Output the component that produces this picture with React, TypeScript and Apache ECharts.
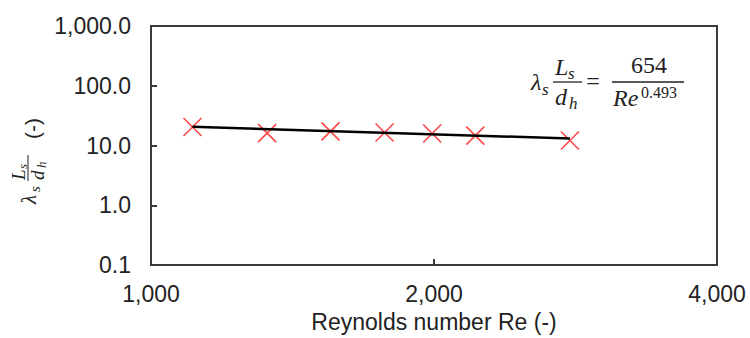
import React, { useEffect, useRef } from "react";
import * as echarts from "echarts";

const reynolds = [1107, 1329, 1552, 1772, 1991, 2213, 2790];
const lambdaLd = [20.4, 16.1, 17.2, 16.5, 15.9, 14.6, 12.1];
const trendRe = [1107, 2790];
const trendVal = [20.6, 13.1];
const xTicks = [1000, 2000, 4000];
const xTitle = "Reynolds number Re (-)";

const SERIF = "'Liberation Serif', serif";
const SANS = "'Liberation Sans', Arial, sans-serif";

export default function App() {
  const ref = useRef<HTMLDivElement>(null);
  useEffect(() => {
    if (!ref.current) return;
    const chart = echarts.init(ref.current, null, { renderer: "svg" });
    const frame = "#3a3a3a";
    const it = (text: string, x: number, y: number, size: number, italic = true, align = "left") => ({
      type: "text",
      x,
      y,
      style: {
        text,
        font: `${italic ? "italic " : ""}${size}px ${SERIF}`,
        fill: "#222",
        textAlign: align,
        textVerticalAlign: "middle",
      },
    });
    chart.setOption({
      animation: false,
      backgroundColor: "#fff",
      grid: {
        left: 151,
        right: 33,
        top: 26,
        bottom: 69,
        show: true,
        borderColor: frame,
        borderWidth: 2,
      },
      xAxis: {
        type: "log",
        logBase: 2,
        min: 1000,
        max: 4000,
        name: xTitle,
        nameLocation: "middle",
        nameGap: 45,
        nameTextStyle: { fontFamily: SANS, fontSize: 23, color: "#222" },
        axisLine: { show: false },
        axisTick: {
          show: true,
          inside: true,
          length: 6,
          customValues: xTicks,
          lineStyle: { color: frame, width: 2 },
        },
        axisLabel: {
          customValues: xTicks,
          margin: 17,
          fontFamily: SANS,
          fontSize: 23,
          color: "#222",
          formatter: (v: number) => Math.round(v).toLocaleString("en-US"),
        },
        splitLine: { show: false },
        minorTick: { show: false },
      },
      yAxis: {
        type: "log",
        logBase: 10,
        min: 0.1,
        max: 1000,
        axisLine: { show: false },
        axisTick: { show: true, inside: true, length: 6, lineStyle: { color: frame, width: 2 } },
        axisLabel: {
          margin: 20,
          fontFamily: SANS,
          fontSize: 23,
          color: "#222",
          formatter: (v: number) =>
            v.toLocaleString("en-US", { minimumFractionDigits: 1, maximumFractionDigits: 1 }),
        },
        splitLine: { show: false },
      },
      series: [
        {
          type: "scatter",
          data: reynolds.map((r, i) => [r, lambdaLd[i]]),
          symbol: "path://M0,0L10,10M10,0L0,10",
          symbolSize: 18,
          itemStyle: { color: "rgba(0,0,0,0)", borderColor: "#ff1a1a", borderWidth: 1.6 },
          z: 2,
        },
        {
          type: "line",
          data: trendRe.map((r, i) => [r, trendVal[i]]),
          showSymbol: false,
          symbol: "none",
          lineStyle: { color: "#000", width: 2.5 },
          z: 3,
        },
      ],
      graphic: [
        // equation annotation
        {
          type: "group",
          children: [
            it("λ", 531, 82, 24),
            it("s", 542, 89, 17),
            it("L", 555, 67, 24),
            it("s", 568, 73, 17),
            { type: "line", shape: { x1: 553, y1: 82, x2: 582, y2: 82 }, style: { stroke: "#222", lineWidth: 1.3 } },
            it("d", 555, 97, 24),
            it("h", 569, 103, 17),
            it("=", 593, 81, 24, false, "center"),
            it("654", 649, 65, 24, false, "center"),
            { type: "line", shape: { x1: 612, y1: 82, x2: 684, y2: 82 }, style: { stroke: "#222", lineWidth: 1.3 } },
            it("Re", 613, 98, 24),
            it("0.493", 641, 92, 16, false),
          ],
        },
        // y axis title, rotated
        {
          type: "group",
          x: 28,
          y: 162,
          rotation: Math.PI / 2,
          children: [
            it("λ", -42, 1, 21),
            it("s", -30, 7, 15),
            it("L", -18, -10, 19),
            it("s", -7, -6, 13),
            { type: "line", shape: { x1: -19, y1: 0, x2: 7, y2: 0 }, style: { stroke: "#333", lineWidth: 1.1 } },
            it("d", -18, 9, 19),
            it("h", -6, 13, 13),
            {
              type: "text",
              x: 23,
              y: 4,
              style: { text: "(-)", font: `21px ${SANS}`, fill: "#222", textAlign: "left", textVerticalAlign: "middle" },
            },
          ],
        },
      ],
    });
    return () => chart.dispose();
  }, []);
  return <div ref={ref} style={{ position: "absolute", left: 0, top: 0, width: 750, height: 338 }} />;
}
